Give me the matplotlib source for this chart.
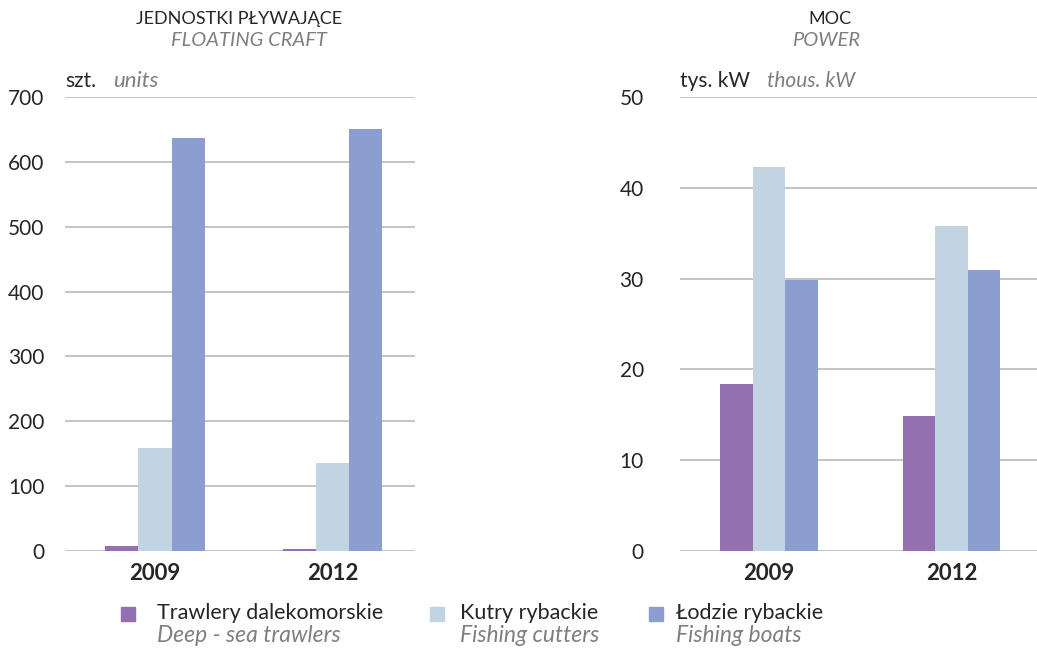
import matplotlib
matplotlib.use("Agg")
import matplotlib.pyplot as plt
import numpy as np

years = ["2009", "2012"]
series_pl = ["Trawlery dalekomorskie", "Kutry rybackie", "Łodzie rybackie"]
series_en = ["Deep - sea trawlers", "Fishing cutters", "Fishing boats"]
units_vals = {
    "Trawlery dalekomorskie": [8, 3],
    "Kutry rybackie": [159, 135],
    "Łodzie rybackie": [637, 650],
}
power_vals = {
    "Trawlery dalekomorskie": [18.4, 14.9],
    "Kutry rybackie": [42.3, 35.8],
    "Łodzie rybackie": [29.8, 30.9],
}
colors = ["#9470B0", "#C2D4E2", "#8C9ECF"]

plt.rcParams['font.family'] = ['Lato', 'DejaVu Sans']
W, H = 1037, 651
fig = plt.figure(figsize=(W / 100, H / 100), dpi=100)
TXT = "#262626"
GRAY = "#7F7F7F"


def px_axes(x0, x1, ytop, ybot):
    return fig.add_axes([x0 / W, (H - ybot) / H, (x1 - x0) / W, (ybot - ytop) / H])


def draw(ax, data, ymax, step, xlim, bw, pad):
    x = np.arange(len(years))
    for i, s in enumerate(series_pl):
        ax.bar(x + (i - 1) * bw, data[s], width=bw, color=colors[i], zorder=3)
    ax.set_xlim(*xlim)
    ax.set_ylim(0, ymax)
    ticks = np.arange(0, ymax + step / 2, step)
    ax.set_yticks(ticks)
    ax.set_yticklabels([f"{int(t)}" for t in ticks], fontsize=15, color=TXT)
    for t in ticks:
        ax.axhline(t, color="#BFBFBF", lw=1.3, zorder=1)
    ax.set_xticks(x)
    ax.set_xticklabels(years, fontsize=16, fontweight="bold", color=TXT)
    ax.tick_params(axis="y", length=0, pad=pad)
    ax.tick_params(axis="x", length=0, pad=9)
    for sp in ax.spines.values():
        sp.set_visible(False)
    ax.patch.set_alpha(0)


ax1 = px_axes(65, 415, 97, 551)
draw(ax1, units_vals, 700, 100, (-0.507, 1.465), 0.187, 15)
ax2 = px_axes(680, 1037, 97, 551)
draw(ax2, power_vals, 50, 10, (-0.489, 1.47), 0.178, 26)


def ftext(x, y, s, **kw):
    fig.text(x / W, 1 - y / H, s, **kw)


ftext(239, 19, "JEDNOSTKI PŁYWAJĄCE", ha="center", va="center", fontsize=13, color=TXT)
ftext(249, 40, "FLOATING CRAFT", ha="center", va="center", fontsize=14.5, color=GRAY, style="italic")
ftext(830, 19, "MOC", ha="center", va="center", fontsize=13, color=TXT)
ftext(826, 40, "POWER", ha="center", va="center", fontsize=14.5, color=GRAY, style="italic")

ftext(65, 81, "szt.", ha="left", va="center", fontsize=15, color=TXT)
ftext(113, 81, "units", ha="left", va="center", fontsize=16, color=GRAY, style="italic")
ftext(680, 81, "tys. kW", ha="left", va="center", fontsize=15, color=TXT)
ftext(767, 81, "thous. kW", ha="left", va="center", fontsize=15, color=GRAY, style="italic")

sq_x = [121, 430, 649]
tx_x = [157, 460, 676]
for i in range(3):
    fig.patches.append(plt.Rectangle((sq_x[i] / W, 1 - 621 / H), 14 / W, 14 / H,
                                     transform=fig.transFigure, color=colors[i]))
    ftext(tx_x[i], 613, series_pl[i], ha="left", va="center", fontsize=15.5, color=TXT)
    ftext(tx_x[i], 636, series_en[i], ha="left", va="center", fontsize=16.5, color=GRAY, style="italic")

fig.savefig("out.png", dpi=100)
